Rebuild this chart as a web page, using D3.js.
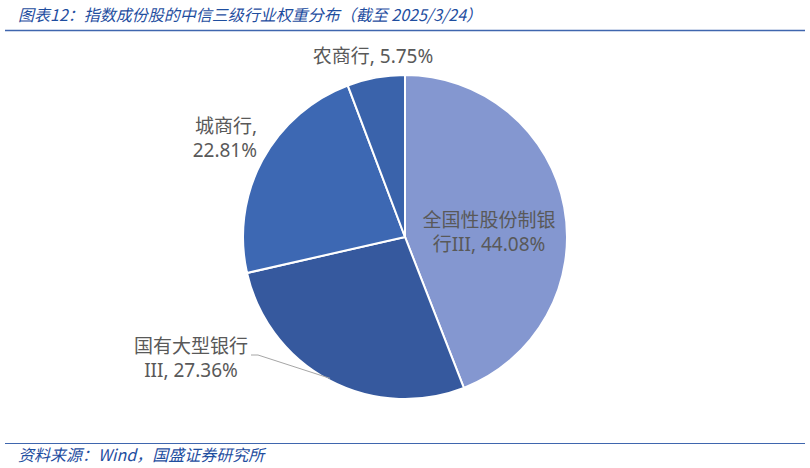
<!DOCTYPE html>
<html>
<head>
<meta charset="utf-8">
<script src="https://cdn.jsdelivr.net/npm/d3@7"></script>
<style>
  body { margin: 0; background: #fff; }
  svg { display: block; }
  .lbl { font-family: "Noto Sans", "Noto Sans CJK SC", sans-serif; font-size: 19px; fill: #595959; }
</style>
</head>
<body>
<script>
// chart data
var categories = ["全国性股份制银行III", "国有大型银行III", "城商行", "农商行"];
var weights = [44.08, 27.36, 22.81, 5.75];
var colors = ["#8497d0", "#36599e", "#3d68b3", "#3a63ab"];
// label lines as shown on the chart
var labelLines = [
  ["全国性股份制银", "行III, 44.08%"],
  ["国有大型银行", "III, 27.36%"],
  ["城商行,", "22.81%"],
  ["农商行, 5.75%"]
];

function main() {
  var width = 810, height = 468;
  var cx = 405, cy = 237, radius = 162;

  var svg = d3.select("body").append("svg")
    .attr("width", width)
    .attr("height", height);

  // title + rule
  svg.append("text")
    .attr("x", 18).attr("y", 21)
    .style("font-family", "'Noto Sans CJK SC', sans-serif")
    .style("font-size", "16px")
    .style("font-style", "italic")
    .style("fill", "#1f4e9f")
    .text("图表12：指数成份股的中信三级行业权重分布（截至 2025/3/24）");
  svg.append("line")
    .attr("x1", 5).attr("x2", 805).attr("y1", 30.5).attr("y2", 30.5)
    .style("stroke", "#3f66ae").style("stroke-width", 1.5);

  // footer
  svg.append("line")
    .attr("x1", 5).attr("x2", 805).attr("y1", 443.5).attr("y2", 443.5)
    .style("stroke", "#3f66ae").style("stroke-width", 1.2);
  svg.append("text")
    .attr("x", 18).attr("y", 461)
    .style("font-family", "'Noto Sans CJK SC', sans-serif")
    .style("font-size", "16px")
    .style("font-style", "italic")
    .style("fill", "#1f4e9f")
    .text("资料来源：Wind，国盛证券研究所");

  var data = categories.map(function(c, i) {
    return {name: c, value: weights[i], color: colors[i], lines: labelLines[i]};
  });

  var pie = d3.pie().value(function(d) { return d.value; }).sort(null);
  var arc = d3.arc().innerRadius(0).outerRadius(radius);
  var arcs = pie(data);

  var g = svg.append("g").attr("transform", "translate(" + cx + "," + cy + ")");

  g.selectAll("path")
    .data(arcs)
    .enter().append("path")
      .attr("d", arc)
      .attr("fill", function(d) { return d.data.color; })
      .attr("stroke", "#fff")
      .attr("stroke-width", 2);

  // label anchors (offsets from pie center)
  var labelPos = [
    {x: 84, y: -10, anchor: "middle"},
    {x: -214, y: 116, anchor: "middle"},
    {x: -148, y: -104, anchor: "end"},
    {x: -32, y: -174, anchor: "middle"}
  ];

  // leader line for the 国有 slice
  var edge = d3.arc().innerRadius(radius - 2).outerRadius(radius - 2).centroid(arcs[1]);
  g.append("polyline")
    .attr("points", [[-154, 118], [-147, 118], edge].map(function(p) { return p.join(","); }).join(" "))
    .attr("fill", "none")
    .attr("stroke", "#a6a6a6")
    .attr("stroke-width", 1);

  arcs.forEach(function(a, i) {
    var p = labelPos[i];
    var t = g.append("text")
      .attr("class", "lbl")
      .attr("text-anchor", p.anchor)
      .attr("transform", "translate(" + p.x + "," + p.y + ")");
    a.data.lines.forEach(function(line, j) {
      t.append("tspan")
        .attr("x", 0)
        .attr("dy", j === 0 ? 0 : 24)
        .text(line);
    });
  });
}

window.onload = function() {
  main();
};
</script>
</body>
</html>
